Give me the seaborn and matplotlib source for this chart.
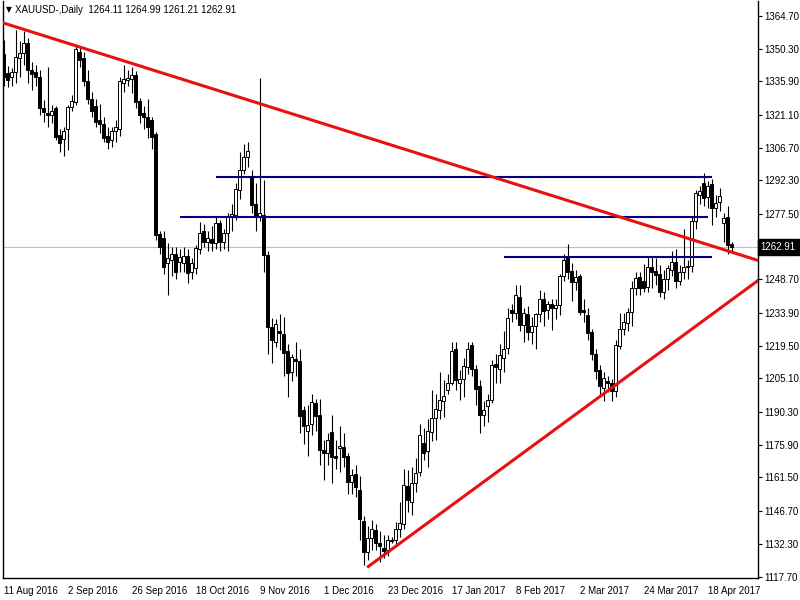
import numpy as np
import pandas as pd
import matplotlib
matplotlib.use("Agg")
import matplotlib.pyplot as plt
import matplotlib.transforms as mtransforms
import seaborn as sns

# Daily candles XAUUSD, 11 Aug 2016 -> 26 Apr 2017
OPEN = [1348, 1339.5, 1338, 1340, 1346, 1348.3, 1352.7, 1341, 1340, 1338,
        1324, 1322, 1321, 1324, 1312.3, 1310.5, 1314.9, 1324.5, 1327, 1349,
        1346, 1336, 1328, 1325, 1319, 1317, 1312, 1310, 1314, 1315,
        1335, 1336.5, 1337, 1338.7, 1327.4, 1322, 1320.4, 1318.9, 1312.7, 1268.7,
        1267, 1255.8, 1257, 1260, 1256.5, 1256, 1259, 1251.7, 1253.6, 1262,
        1270, 1265.3, 1266.4, 1264.9, 1273.4, 1265, 1269, 1276.5, 1277.1, 1288.1,
        1296.9, 1302.5, 1294, 1281.8, 1276.3, 1277, 1259.5, 1227.5, 1221, 1226,
        1224.7, 1216.9, 1208, 1213.8, 1212.8, 1191, 1181.9, 1185, 1194.4, 1189,
        1173.6, 1172.4, 1181.5, 1171, 1174.4, 1175, 1171, 1159.6, 1163, 1156,
        1142.3, 1128.4, 1134.6, 1138.4, 1132.5, 1130.5, 1129.6, 1133.5, 1134, 1138.7,
        1140.9, 1157.5, 1150.8, 1159, 1163.6, 1176.6, 1173, 1181.6, 1187.6, 1191.2,
        1194.9, 1200, 1203.2, 1218, 1203.2, 1204.7, 1210, 1219.8, 1209, 1201.5,
        1189, 1193, 1195.6, 1211.3, 1209, 1214, 1218.5, 1235.2, 1233.8, 1241.1,
        1228.6, 1233.5, 1225.5, 1228, 1233.5, 1240, 1235, 1237.7, 1236, 1237.4,
        1250, 1258, 1252.5, 1247.7, 1250.3, 1235, 1233, 1225.7, 1216, 1208.8,
        1200.7, 1204, 1203, 1199.3, 1219.5, 1227, 1229.5, 1234.5, 1244.8, 1249.5,
        1248, 1245.5, 1254, 1252.5, 1251, 1243, 1249, 1253, 1256.5, 1248,
        1252, 1254, 1254.5, 1274.5, 1286, 1291, 1285, 1290.5, 1280, 1282.8,
        1273.4, 1276.3, 1264.11]
HIGH = [1354, 1342.5, 1342, 1358.5, 1353.5, 1358, 1355, 1344.5, 1343, 1341,
        1327.7, 1342.4, 1325.5, 1325, 1315, 1316, 1325.5, 1330, 1352, 1351.2,
        1349, 1341, 1331, 1328, 1326, 1320, 1316, 1316, 1319, 1338,
        1343, 1341, 1342.4, 1340.5, 1328.5, 1325, 1328, 1320, 1313.5, 1270,
        1270, 1264.6, 1263, 1263, 1262, 1263, 1262, 1258, 1264, 1274,
        1273, 1270, 1272, 1276, 1275, 1271, 1278, 1282, 1291, 1305,
        1308.5, 1309, 1297, 1291, 1337.5, 1292.5, 1261, 1231.7, 1231, 1233.5,
        1232, 1220, 1216, 1221.3, 1218, 1193, 1193.4, 1198, 1196, 1196,
        1178, 1181, 1189, 1178, 1184, 1181, 1172, 1165, 1167, 1162,
        1144.5, 1140, 1142.8, 1141, 1138, 1136, 1136, 1135, 1141.6, 1150.8,
        1165, 1164.8, 1166, 1170, 1185, 1183.4, 1187, 1200, 1198, 1208,
        1204.4, 1207, 1221, 1221, 1208.8, 1214, 1221, 1221, 1211, 1204.4,
        1195, 1198, 1213, 1216, 1220, 1226, 1236, 1238, 1246, 1246,
        1236, 1237, 1232, 1234, 1244, 1243, 1239, 1240, 1240, 1251,
        1260, 1264.2, 1256, 1253, 1251, 1240, 1236, 1227, 1218, 1211,
        1208, 1206, 1205, 1222, 1234, 1234, 1236, 1248, 1252, 1252,
        1255.5, 1259, 1259, 1258, 1255, 1253, 1255, 1261, 1262, 1255,
        1271, 1257, 1276, 1288, 1290, 1295.5, 1292, 1292.8, 1286, 1289,
        1277.8, 1281, 1264.99]
LOW = [1334, 1333.5, 1334, 1335, 1338, 1343, 1335, 1332, 1334, 1321,
       1318.2, 1316, 1317.6, 1310, 1305, 1302.8, 1305.7, 1323, 1325.5, 1342.4,
       1334, 1326, 1320, 1316, 1313, 1309, 1306, 1307, 1309, 1312,
       1331, 1334, 1330.8, 1324, 1317.5, 1315, 1311, 1306, 1266, 1260,
       1251, 1241.9, 1250, 1249, 1252, 1252, 1247, 1249, 1251, 1260,
       1263, 1261, 1261, 1262, 1261, 1262, 1261, 1270, 1275, 1284,
       1295, 1298, 1278, 1270, 1274.5, 1252, 1216, 1212, 1219, 1217.6,
       1206, 1197, 1204, 1205.9, 1181, 1176, 1171, 1180, 1182, 1167,
       1160.3, 1167, 1159, 1165, 1164, 1166, 1154, 1154, 1153, 1134,
       1122.9, 1125, 1129.6, 1129.6, 1124, 1126, 1127, 1132.5, 1132, 1135,
       1138.6, 1146, 1145, 1155, 1162, 1169, 1166, 1177.3, 1178, 1187,
       1188, 1198, 1202, 1200, 1195.6, 1197, 1207, 1206, 1193.4, 1181,
       1184, 1186, 1194, 1203, 1203, 1208, 1216, 1230, 1231, 1226,
       1221, 1222, 1220, 1218, 1230, 1228, 1231, 1226.4, 1231, 1233,
       1248, 1249, 1239, 1244, 1233, 1230, 1222, 1213, 1205, 1197,
       1195, 1199, 1195, 1197, 1218, 1224, 1226, 1228, 1242, 1242,
       1243, 1243, 1245, 1246, 1241, 1240, 1244, 1250, 1245, 1246,
       1249, 1249, 1252, 1271, 1282, 1281, 1280, 1272.5, 1276, 1279,
       1265.3, 1259.7, 1261.21]
CLOSE = [1338, 1336.5, 1340, 1346.5, 1348.5, 1352.7, 1341, 1339, 1337.7, 1324,
         1322.6, 1321, 1323, 1311.6, 1308.6, 1314.2, 1324.5, 1327.4, 1350, 1345.3,
         1336, 1328, 1323, 1318, 1317, 1311, 1309, 1314, 1316, 1336,
         1337, 1337.5, 1338.5, 1327, 1321, 1320.3, 1316, 1311.5, 1268.3, 1263.1,
         1254.3, 1257.9, 1260, 1252, 1258.7, 1259, 1251.4, 1256, 1262.4, 1269.3,
         1265.3, 1266.8, 1264.6, 1273.7, 1265.3, 1269, 1276.3, 1277.3, 1288.4, 1296.9,
         1302.7, 1305.4, 1281.5, 1276.3, 1277.8, 1259.5, 1227.9, 1222, 1229, 1225,
         1216.3, 1207.6, 1214.5, 1212.5, 1188.3, 1184, 1184.7, 1194.5, 1188.3, 1173.3,
         1172.1, 1177.7, 1170.5, 1170, 1175.1, 1170.6, 1159.6, 1162.6, 1157, 1143,
         1128.4, 1134.8, 1138.8, 1132.5, 1131, 1129, 1134, 1134, 1138.9, 1141.4,
         1158.2, 1151.6, 1159, 1163.3, 1180.2, 1172.4, 1181.7, 1187.6, 1191.6, 1195.6,
         1197.4, 1203, 1217.3, 1204.4, 1204.7, 1210.6, 1218, 1209.2, 1200.3, 1189,
         1191, 1195.6, 1211, 1210, 1215.4, 1218, 1231.5, 1233.8, 1241.8, 1228.6,
         1233.8, 1225.5, 1228, 1233.5, 1240, 1234.8, 1237.7, 1236, 1237.4, 1250.3,
         1257.3, 1252.1, 1247.7, 1249.9, 1234.5, 1234.2, 1225, 1215.7, 1208.3, 1201.5,
         1205.1, 1203, 1199.3, 1219.8, 1227, 1229.7, 1234.5, 1244.8, 1249.2, 1245,
         1245, 1254.3, 1252, 1250.7, 1243, 1249, 1253.5, 1256.5, 1248, 1252,
         1254, 1254.5, 1274.5, 1286.8, 1287.7, 1284.5, 1289.6, 1280, 1282.2, 1285.4,
         1275.6, 1263.9, 1262.91]

DATE_LABELS = ["11 Aug 2016", "2 Sep 2016", "26 Sep 2016", "18 Oct 2016",
               "9 Nov 2016", "1 Dec 2016", "23 Dec 2016", "17 Jan 2017",
               "8 Feb 2017", "2 Mar 2017", "24 Mar 2017", "18 Apr 2017"]
LABEL_STEP = 16

Y_TICKS = [1364.70, 1350.30, 1335.90, 1321.10, 1306.70, 1292.30, 1277.50,
           1248.70, 1233.90, 1219.50, 1205.10, 1190.30, 1175.90, 1161.50,
           1146.70, 1132.30, 1117.70]

HEADER = "XAUUSD-,Daily  1264.11 1264.99 1261.21 1262.91"
LAST_PRICE = 1262.91

# horizontal levels (navy): price, first bar, last bar
LEVEL_PRICE = [1293.8, 1276.3, 1258.7]
LEVEL_START = [53, 44, 125]
LEVEL_END = [177, 176, 177]

# red trendlines, two anchors each (bar, price)
UPPER_BARS = [0, 182]
UPPER_PRICES = [1361.6, 1260.7]
LOWER_BARS = [90.9, 182]
LOWER_PRICES = [1121.8, 1239.6]

FONT = ["Liberation Sans", "DejaVu Sans"]
FS = 7

sns.set_theme(style="white")
plt.rcParams["font.family"] = FONT

df = pd.DataFrame({"open": OPEN, "high": HIGH, "low": LOW, "close": CLOSE})
df["bar"] = np.arange(len(df))
df["up"] = df["close"] >= df["open"]
df["bottom"] = df[["open", "close"]].min(axis=1)
df["body"] = (df["close"] - df["open"]).abs()

fig = plt.figure(figsize=(8, 6), dpi=100)
fig.patch.set_facecolor("white")
ax = fig.add_axes([2.7 / 800, 22 / 600, 755 / 800, 577 / 600])
ax.set_facecolor("white")

# current price line
ax.axhline(LAST_PRICE, color="#C0C0C0", lw=0.8, zorder=1)

# candles
ax.vlines(df["bar"], df["low"], df["high"], color="black", lw=0.8, zorder=2)
ax.bar(df["bar"], df["body"], bottom=df["bottom"], width=0.62,
       color=np.where(df["up"], "white", "black"), edgecolor="black",
       linewidth=0.7, zorder=3)

# levels
for p, s, e in zip(LEVEL_PRICE, LEVEL_START, LEVEL_END):
    ax.plot([s, e], [p, p], color="#000080", lw=1.5, zorder=4, solid_capstyle="butt")

x_right = (757.7 - 3.5) / 4
x_left = (2.7 - 3.5) / 4

# upper trendline (infinite)
ax.axline((UPPER_BARS[0], UPPER_PRICES[0]), (UPPER_BARS[1], UPPER_PRICES[1]),
          color="#E81010", lw=2.2, zorder=5)
# lower trendline (ray to the right)
slope = (LOWER_PRICES[1] - LOWER_PRICES[0]) / (LOWER_BARS[1] - LOWER_BARS[0])
ax.plot([LOWER_BARS[0], x_right + 1],
        [LOWER_PRICES[0], LOWER_PRICES[0] + slope * (x_right + 1 - LOWER_BARS[0])],
        color="#E81010", lw=2.2, zorder=5, solid_capstyle="butt")

ax.set_xlim(x_left, x_right)
ax.set_ylim(1117.12, 1371.3)

# axes styling like the terminal
for sp in ax.spines.values():
    sp.set_color("black")
    sp.set_linewidth(1.0)
ax.spines["top"].set_visible(False)

ax.yaxis.tick_right()
ax.set_yticks(Y_TICKS)
ax.set_yticklabels([f"{v:.2f}" for v in Y_TICKS], fontsize=FS, color="black")
ax.tick_params(axis="y", which="both", direction="out", length=3, width=0.8,
               pad=1.5, right=True, left=False, colors="black")

ticks = [i * LABEL_STEP for i in range(len(DATE_LABELS))]
ax.set_xticks(ticks)
ax.set_xticklabels(DATE_LABELS, fontsize=FS, ha="left", color="black")
ax.tick_params(axis="x", direction="out", length=4, width=0.8, pad=1.5, colors="black")
ax.grid(False)

# last price tag
trans = mtransforms.blended_transform_factory(ax.transAxes, ax.transData)
ax.text(1.004, LAST_PRICE, f"{LAST_PRICE:.2f}", transform=trans, ha="left",
        va="center", fontsize=FS, color="white", clip_on=False,
        bbox=dict(boxstyle="square,pad=0.3", facecolor="black", edgecolor="black"))

# header
fig.text(6 / 800, 1 - 10 / 600, "\u25bc", fontsize=5.5, color="black", va="center",
         family=["DejaVu Sans"])
fig.text(15 / 800, 1 - 10 / 600, HEADER, fontsize=FS, color="black", va="center")

fig.savefig("out.png", dpi=100, facecolor="white")
